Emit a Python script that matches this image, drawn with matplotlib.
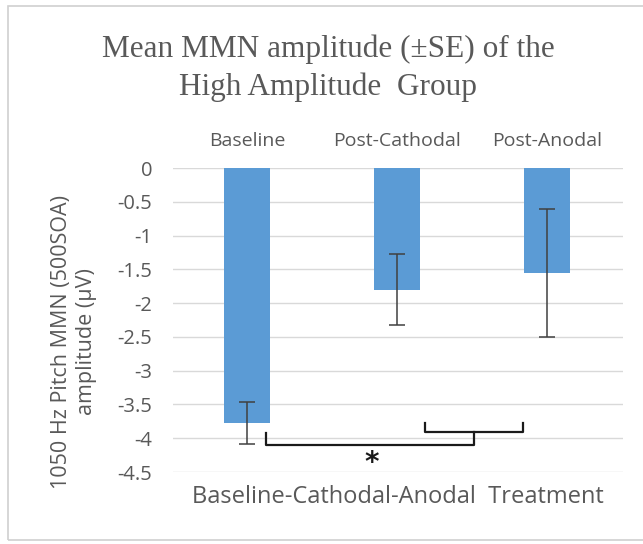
import matplotlib.pyplot as plt
from matplotlib.patches import Rectangle

conditions = ['Baseline', 'Post-Cathodal', 'Post-Anodal']
mean_amp = [-3.78, -1.80, -1.55]
se_amp = [0.31, 0.53, 0.95]
yticks = [0, -0.5, -1, -1.5, -2, -2.5, -3, -3.5, -4, -4.5]

# significance bracket: Baseline vs. (Post-Cathodal + Post-Anodal)
pair_left = [1.19, 1.84]
pair_y = [-3.77, -3.91]
main_x = [0.13, 1.515]
main_y = [-3.92, -4.10]
star_pos = (0.83, -4.36)

grey = '#595959'
blue = '#5B9BD5'

fig = plt.figure(figsize=(6.43, 5.44), dpi=100)
fig.patches.append(Rectangle((8 / 643, 4 / 544), 1.2, 1 - 10 / 544,
                             transform=fig.transFigure, fill=False,
                             edgecolor='#D0D0D0', linewidth=1.2))
ax = fig.add_axes([173 / 643, 1 - 472 / 544, 450 / 643, 304 / 544])

x = list(range(len(conditions)))
ax.bar(x, mean_amp, width=0.31, color=blue, zorder=2)
ax.errorbar(x, mean_amp, yerr=se_amp, fmt='none', ecolor='#404040',
            elinewidth=1.1, capsize=5.5, capthick=1.1, zorder=3)

ax.set_xlim(-0.493, 2.507)
ax.set_ylim(-4.5, 0)
ax.set_yticks(yticks)
ax.set_yticklabels([('%g' % t) for t in yticks])
ax.yaxis.grid(True, color='#D9D9D9', linewidth=1.0, zorder=0)
ax.set_axisbelow(True)
for s in ax.spines.values():
    s.set_visible(False)
ax.tick_params(axis='y', length=0, pad=15, labelsize=14.5, labelcolor=grey)
ax.tick_params(axis='x', length=0, top=True, bottom=False, labeltop=True,
               labelbottom=False, pad=13, labelsize=14, labelcolor=grey)
ax.set_xticks(x)
ax.set_xticklabels(conditions)
for lab in ax.get_xticklabels() + ax.get_yticklabels():
    lab.set_family('Open Sans')

# brackets
ax.plot([pair_left[0], pair_left[0], pair_left[1], pair_left[1]],
        [pair_y[0], pair_y[1], pair_y[1], pair_y[0]],
        color='#1a1a1a', linewidth=1.6, zorder=4)
ax.plot([main_x[0], main_x[0], main_x[1], main_x[1]],
        [main_y[0], main_y[1], main_y[1], pair_y[1]],
        color='#1a1a1a', linewidth=1.6, zorder=4)
ax.text(star_pos[0], star_pos[1], '*', ha='center', va='center',
        fontsize=20, color='#1a1a1a', fontweight='bold')

fig.text(328 / 643, 1 - 68 / 544, 'Mean MMN amplitude (\u00b1SE) of the\nHigh Amplitude  Group',
         ha='center', va='center', fontsize=22.5, color=grey,
         family='Liberation Serif', linespacing=1.38)
fig.text(398 / 643, 1 - 497 / 544, 'Baseline-Cathodal-Anodal  Treatment',
         ha='center', va='center', fontsize=17, color=grey, family='Open Sans')
fig.text(74 / 643, 1 - 342 / 544, '1050 Hz Pitch MMN (500SOA)\namplitude (\u03bcV)',
         ha='center', va='center', rotation=90, fontsize=15.5, color=grey,
         family='Open Sans', linespacing=1.2)

fig.savefig('out.png', dpi=100)
